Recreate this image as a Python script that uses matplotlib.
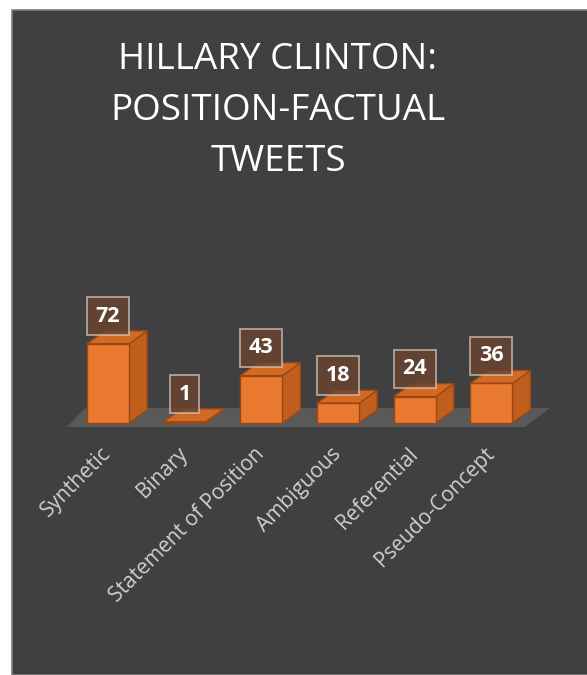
import matplotlib.pyplot as plt
from matplotlib.patches import Polygon, Rectangle

categories = ['Synthetic', 'Binary', 'Statement of Position', 'Ambiguous',
              'Referential', 'Pseudo-Concept']
values = [72, 1, 43, 18, 24, 36]
title = 'HILLARY CLINTON:\nPOSITION-FACTUAL\nTWEETS'

BG = '#404040'
FLOOR = '#595959'
FRONT = '#EA7A30'
TOP = '#D26A24'
SIDE = '#BF5E1D'
EDGE = '#9A4813'

fig = plt.figure(figsize=(5.87, 6.75), dpi=100)
fig.patch.set_facecolor('white')

# dark chart area with a thin light border
frame = Rectangle((12 / 587, 0), 1, 1 - 10 / 675, transform=fig.transFigure,
                  facecolor=BG, edgecolor='#7f7f7f', linewidth=1.2, zorder=-5)
fig.patches.append(frame)

fig.text(278 / 587, 1 - 111 / 675, title, ha='center', va='center',
         color='white', fontsize=26.5, family='Open Sans', linespacing=1.56)

ax = fig.add_axes([69.7 / 587, (675 - 423) / 675, 460 / 587, 110 / 675])
ax.set_zorder(2)
ax.set_xlim(-0.5, len(categories) - 0.5)
ax.set_ylim(0, 100)
ax.patch.set_visible(False)
for s in ax.spines.values():
    s.set_visible(False)
ax.tick_params(length=0)
ax.set_yticks([])

width = 0.55
dx, dy = 0.235, 11.8   # depth offset of the 3D boxes

# floor
ax.add_patch(Polygon([(-0.535, -3.6), (5.44, -3.6), (5.76, dy + 1.8),
                      (-0.3, dy + 1.8)], closed=True, facecolor=FLOOR,
                     edgecolor='none', clip_on=False, zorder=1))

for i, v in enumerate(values):
    x0, x1 = i - width / 2, i + width / 2
    top = [(x0, v), (x1, v), (x1 + dx, v + dy), (x0 + dx, v + dy)]
    side = [(x1, 0), (x1 + dx, dy), (x1 + dx, v + dy), (x1, v)]
    front = [(x0, 0), (x1, 0), (x1, v), (x0, v)]
    for pts, col in ((side, SIDE), (top, TOP), (front, FRONT)):
        ax.add_patch(Polygon(pts, closed=True, facecolor=col, edgecolor=EDGE,
                             linewidth=1.0, clip_on=False, zorder=2))
    ax.annotate(str(v), (i, v), xytext=(0, 20), textcoords='offset points',
                ha='center', va='center', color='white', fontsize=15.5,
                fontweight='bold', family='Open Sans', zorder=4,
                bbox=dict(boxstyle='square,pad=0.4', facecolor='#6a4430',
                          alpha=0.82, edgecolor='#d0c4bb', linewidth=1.2))

ax.set_xticks(range(len(categories)))
ax.set_xticklabels(categories, rotation=45, ha='right', va='center',
                   rotation_mode='anchor', color='#d0d0d0', fontsize=15,
                   family='Open Sans')
ax.tick_params(axis='x', pad=20)

fig.savefig('out.png', dpi=100, facecolor=fig.get_facecolor())
